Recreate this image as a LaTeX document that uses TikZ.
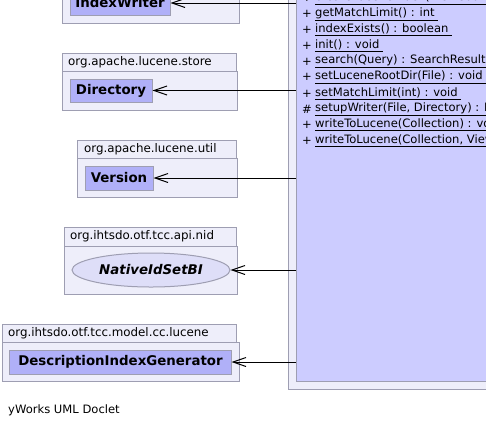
\documentclass[tikz,border=0pt]{standalone}
\usepackage{fontspec}
\setmainfont{DejaVu Sans}
\usetikzlibrary{arrows.meta,shapes.geometric}
\definecolor{pkgfill}{RGB}{238,238,250}
\definecolor{pkgline}{RGB}{158,158,178}
\definecolor{clsfill}{RGB}{176,176,248}
\definecolor{bigfill}{RGB}{204,204,255}
\definecolor{iffill}{RGB}{222,222,248}
\newcommand{\mth}[1]{\underline{#1\ }}

\begin{document}
\begin{tikzpicture}[x=1bp,y=-1bp,
    pkg/.style={draw=pkgline,fill=pkgfill,line width=1bp},
    pkgname/.style={anchor=west,inner sep=0pt,font=\fontsize{11.9}{13}\selectfont},
    cls/.style={draw=pkgline,fill=clsfill,line width=1bp,inner sep=0pt,
      font=\fontsize{13.4}{15}\selectfont\bfseries},
    iface/.style={cls,ellipse,fill=iffill,font=\fontsize{13.4}{15}\selectfont\bfseries\itshape},
    vis/.style={anchor=west,inner sep=0pt,font=\fontsize{11.6}{13}\selectfont},
    member/.style={anchor=west,inner sep=0pt,font=\fontsize{11.6}{13}\selectfont},
    dep/.style={draw,line width=1bp,-{Straight Barb[length=13bp,width=9bp]}}]
          \useasboundingbox (0,0) rectangle (486,427);
          \clip (0,0) rectangle (486,427);
          \begin{scope}
            \draw[pkg] (62,-40) rectangle (239,23);
            \node[cls,minimum width=100bp,minimum height=24bp] (writer) at (120,3) {IndexWriter};
          \end{scope}
          \begin{scope}
            \draw[pkg] (62,53) rectangle (236,71);
            \draw[pkg] (62,71) rectangle (237.5,110);
            \node[pkgname] (dirpkg) at (68,62) {org.apache.lucene.store};
            \node[cls,minimum width=82bp,minimum height=23bp] (dir) at (111,90.5) {Directory};
          \end{scope}
          \begin{scope}
            \draw[pkg] (77,140) rectangle (236,158);
            \draw[pkg] (77,158) rectangle (237,197);
            \node[pkgname] (verpkg) at (84,149) {org.apache.lucene.util};
            \node[cls,minimum width=68bp,minimum height=24bp] (ver) at (119,178) {Version};
          \end{scope}
          \begin{scope}
            \draw[pkg] (64,227) rectangle (236,246);
            \draw[pkg] (64,246) rectangle (237,294);
            \node[pkgname] (nidpkg) at (70,236.5) {org.ihtsdo.otf.tcc.api.nid};
            \node[iface,minimum width=158bp,minimum height=34bp] (nid) at (151,270) {NativeIdSetBI};
          \end{scope}
          \begin{scope}
            \draw[pkg] (2,324) rectangle (236,342);
            \draw[pkg] (2,342) rectangle (239,381);
            \node[pkgname] (descpkg) at (8,333) {org.ihtsdo.otf.tcc.model.cc.lucene};
            \node[cls,minimum width=221bp,minimum height=24bp] (desc) at (120.5,362) {DescriptionIndexGenerator};
          \end{scope}
          \begin{scope}
            \draw[pkg] (288,-40) rectangle (520,389);
            \node[draw=pkgline,fill=bigfill,line width=1bp,anchor=north west,
              minimum width=230bp,minimum height=421bp] (mgr) at (296,-40) {};
            \node[vis] (v0) at (302,-1.8) {+};
            \node[member] (m0) at (315,-1.8) {\mth{createLuceneIndex(ViewCoordinate) : void}};
            \node[vis] (v1) at (302,14) {+};
            \node[member] (m1) at (315,14) {\mth{getMatchLimit() : int}};
            \node[vis] (v2) at (302,29.8) {+};
            \node[member] (m2) at (315,29.8) {\mth{indexExists() : boolean}};
            \node[vis] (v3) at (302,45.6) {+};
            \node[member] (m3) at (315,45.6) {\mth{init() : void}};
            \node[vis] (v4) at (302,61.4) {+};
            \node[member] (m4) at (315,61.4) {\mth{search(Query) : SearchResult}};
            \node[vis] (v5) at (302,77.2) {+};
            \node[member] (m5) at (315,77.2) {\mth{setLuceneRootDir(File) : void}};
            \node[vis] (v6) at (302,93.5) {+};
            \node[member] (m6) at (315,93.5) {\mth{setMatchLimit(int) : void}};
            \node[vis] (v7) at (302,109) {\#};
            \node[member] (m7) at (315,109) {\mth{setupWriter(File, Directory) : IndexWriter}};
            \node[vis] (v8) at (302,124.6) {+};
            \node[member] (m8) at (315,124.6) {\mth{writeToLucene(Collection) : void}};
            \node[vis] (v9) at (302,140.4) {+};
            \node[member] (m9) at (315,140.4) {\mth{writeToLucene(Collection, ViewCoordinate) : void}};
          \end{scope}
          \draw[dep] (mgr.west |- writer) -- (writer);
          \draw[dep] (mgr.west |- dir) -- (dir);
          \draw[dep] (mgr.west |- ver) -- (ver);
          \draw[dep] (mgr.west |- nid) -- (nid);
          \draw[dep] (mgr.west |- desc) -- (desc);
          \node[member] (doclet) at (8,410) {yWorks UML Doclet};
        \end{tikzpicture}
\end{document}
